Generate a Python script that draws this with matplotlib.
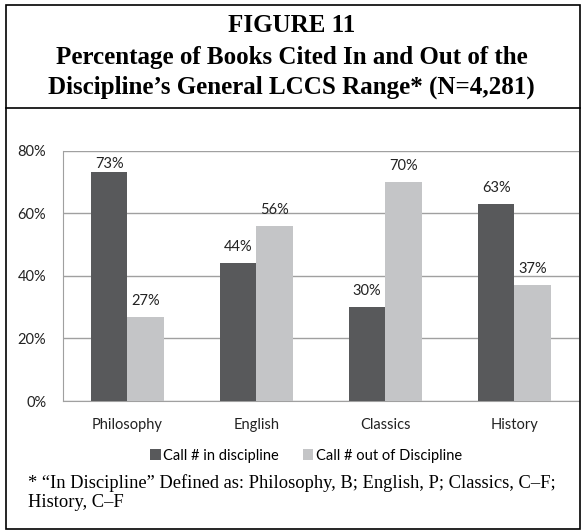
import matplotlib.pyplot as plt
import numpy as np
from matplotlib.patches import Rectangle
from matplotlib.lines import Line2D

categories = ['Philosophy', 'English', 'Classics', 'History']
in_discipline = [73, 44, 30, 63]
out_discipline = [27, 56, 70, 37]
series_names = ['Call # in discipline', 'Call # out of Discipline']
yticks = [0, 20, 40, 60, 80]

dark = '#58595b'
light = '#c4c5c7'
sans = ['Lato', 'DejaVu Sans']
serif = ['Liberation Serif', 'DejaVu Serif']

fig = plt.figure(figsize=(5.83, 5.32), dpi=100)

# frame round the whole figure and the title box
fig.add_artist(Rectangle((0.010, 0.005), 0.985, 0.986, transform=fig.transFigure,
                         fill=False, edgecolor='black', linewidth=1.2))
fig.add_artist(Line2D([0.010, 0.995], [0.797, 0.797], transform=fig.transFigure,
                      color='black', linewidth=1.2))

fig.text(0.5, 0.952, 'FIGURE 11', ha='center', va='center', fontsize=18,
         fontweight='bold', family=serif)
fig.text(0.5, 0.891, 'Percentage of Books Cited In and Out of the', ha='center',
         va='center', fontsize=18, fontweight='bold', family=serif)
fig.text(0.5, 0.835, 'Discipline\u2019s General LCCS Range* (N=4,281)', ha='center',
         va='center', fontsize=18, fontweight='bold', family=serif)

ax = fig.add_axes([0.108, 0.246, 0.885, 0.471])
x = np.arange(len(categories))
w = 0.283
b1 = ax.bar(x - w / 2, in_discipline, w, color=dark, zorder=3, label=series_names[0])
b2 = ax.bar(x + w / 2, out_discipline, w, color=light, zorder=3, label=series_names[1])

# labels sit above bars, kept inside the plot area like Excel does
for bars, vals in ((b1, in_discipline), (b2, out_discipline)):
    for rect, v in zip(bars, vals):
        ax.text(rect.get_x() + rect.get_width() / 2, min(v + 5.1, 75.6), f'{v}%',
                ha='center', va='center', fontsize=10.5, family=sans, color='#222222')

ax.set_xlim(-0.5, 3.5)
ax.set_ylim(0, 80)
ax.set_yticks(yticks)
ax.set_yticklabels([f'{t}%' for t in yticks], family=sans, fontsize=10.5)
ax.set_xticks(x)
ax.set_xticklabels(categories, family=sans, fontsize=10.5)
ax.tick_params(length=0, colors='#222222')
ax.tick_params(axis='x', pad=12)
ax.tick_params(axis='y', pad=12)
ax.yaxis.grid(True, color='#a0a0a0', linewidth=1)
ax.set_axisbelow(True)
for s in ('top', 'right'):
    ax.spines[s].set_visible(False)
ax.spines['left'].set_color('#a0a0a0')
ax.spines['bottom'].set_color('#a0a0a0')

ax.legend(loc='center', bbox_to_anchor=(0.525, 0.143), bbox_transform=fig.transFigure,
          ncol=2, frameon=False, prop={'family': sans, 'size': 10.5},
          handlelength=0.75, handleheight=0.75, handletextpad=0.2, columnspacing=1.6)

fig.text(0.048, 0.092, '* \u201cIn Discipline\u201d Defined as: Philosophy, B; English, P; Classics, C\u2013F;',
         ha='left', va='center', fontsize=13.3, family=serif)
fig.text(0.048, 0.055, 'History, C\u2013F', ha='left', va='center', fontsize=13.3, family=serif)

fig.savefig('out.png', dpi=100)
